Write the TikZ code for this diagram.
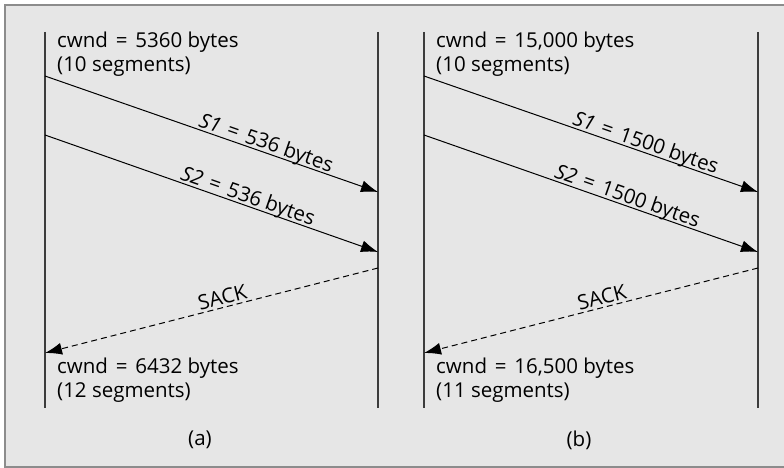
\documentclass[tikz,border=0pt]{standalone}
\usepackage{fontspec}
\setmainfont{Open Sans}
\usetikzlibrary{arrows.meta}
\definecolor{panelgray}{RGB}{230,230,230}
\definecolor{framegray}{RGB}{140,140,140}
\definecolor{hostgray}{RGB}{60,60,60}
\newcommand{\eqsign}{\hspace{.12em}=\hspace{.12em}}
\tikzstyle{host}=[draw=hostgray, line width=1.3pt]
\tikzstyle{window}=[anchor=north west, align=left, inner sep=0pt, font=\fontsize{20.5}{23.5}\selectfont]
\tikzstyle{segment}=[->, black, line width=1pt]
\tikzstyle{ack}=[segment, dash pattern=on 6pt off 4pt]
\tikzstyle{seg label}=[sloped, above, inner sep=2.5pt, text depth=0pt, font=\fontsize{20.5}{23.5}\selectfont]
\tikzstyle{caption}=[font=\fontsize{20.5}{23.5}\selectfont]

\begin{document}
\begin{tikzpicture}[>={Latex[length=17pt,width=12pt]}, x=1pt, y=-1pt]
    \useasboundingbox (0,0) rectangle (784,468);

    % Frame
    \draw[fill=panelgray, draw=framegray, line width=1.2pt] (5,5) rectangle (790,467);

    % Hosts
    \draw[host] (45,32) coordinate (a snd top) -- (45,408) coordinate (a snd bot);
    \draw[host] (378,32) coordinate (a rcv top) -- (378,408) coordinate (a rcv bot);
    \draw[host] (424,32) coordinate (b snd top) -- (424,408) coordinate (b snd bot);
    \draw[host] (758,32) coordinate (b rcv top) -- (758,408) coordinate (b rcv bot);

    % Segment ends
    \coordinate (a s1 out) at (45,76);  \coordinate (a s1 in) at (378,192);
    \coordinate (a s2 out) at (45,135); \coordinate (a s2 in) at (378,252);
    \coordinate (a ack out) at (378,268); \coordinate (a ack in) at (45,353);
    \coordinate (b s1 out) at (424,76);  \coordinate (b s1 in) at (758,192);
    \coordinate (b s2 out) at (424,135); \coordinate (b s2 in) at (758,252);
    \coordinate (b ack out) at (758,268); \coordinate (b ack in) at (424,353);

    % Windows
    \draw (57,32) node[window] (a cwnd old) {cwnd \eqsign{} 5360 bytes\\(10 segments)};
    \draw (57,358) node[window] (a cwnd new) {cwnd \eqsign{} 6432 bytes\\(12 segments)};
    \draw (436,32) node[window] (b cwnd old) {cwnd \eqsign{} 15,000 bytes\\(10 segments)};
    \draw (436,358) node[window] (b cwnd new) {cwnd \eqsign{} 16,500 bytes\\(11 segments)};

    % Segments
    \draw[segment] (a s1 out) -- node[seg label, pos=.655] (a s1) {\textit{S1} \eqsign{} 536 bytes} (a s1 in);
    \draw[segment] (a s2 out) -- node[seg label, pos=.6] (a s2) {\textit{S2} \eqsign{} 536 bytes} (a s2 in);
    \draw[ack] (a ack out) -- node[seg label, pos=.46] (a sack) {SACK} (a ack in);
    \draw[segment] (b s1 out) -- node[seg label, pos=.655] (b s1) {\textit{S1} \eqsign{} 1500 bytes} (b s1 in);
    \draw[segment] (b s2 out) -- node[seg label, pos=.6] (b s2) {\textit{S2} \eqsign{} 1500 bytes} (b s2 in);
    \draw[ack] (b ack out) -- node[seg label, pos=.46] (b sack) {SACK} (b ack in);

    % Captions
    \draw (200,440) node[caption] (a label) {(a)};
    \draw (579,440) node[caption] (b label) {(b)};
\end{tikzpicture}
\end{document}
